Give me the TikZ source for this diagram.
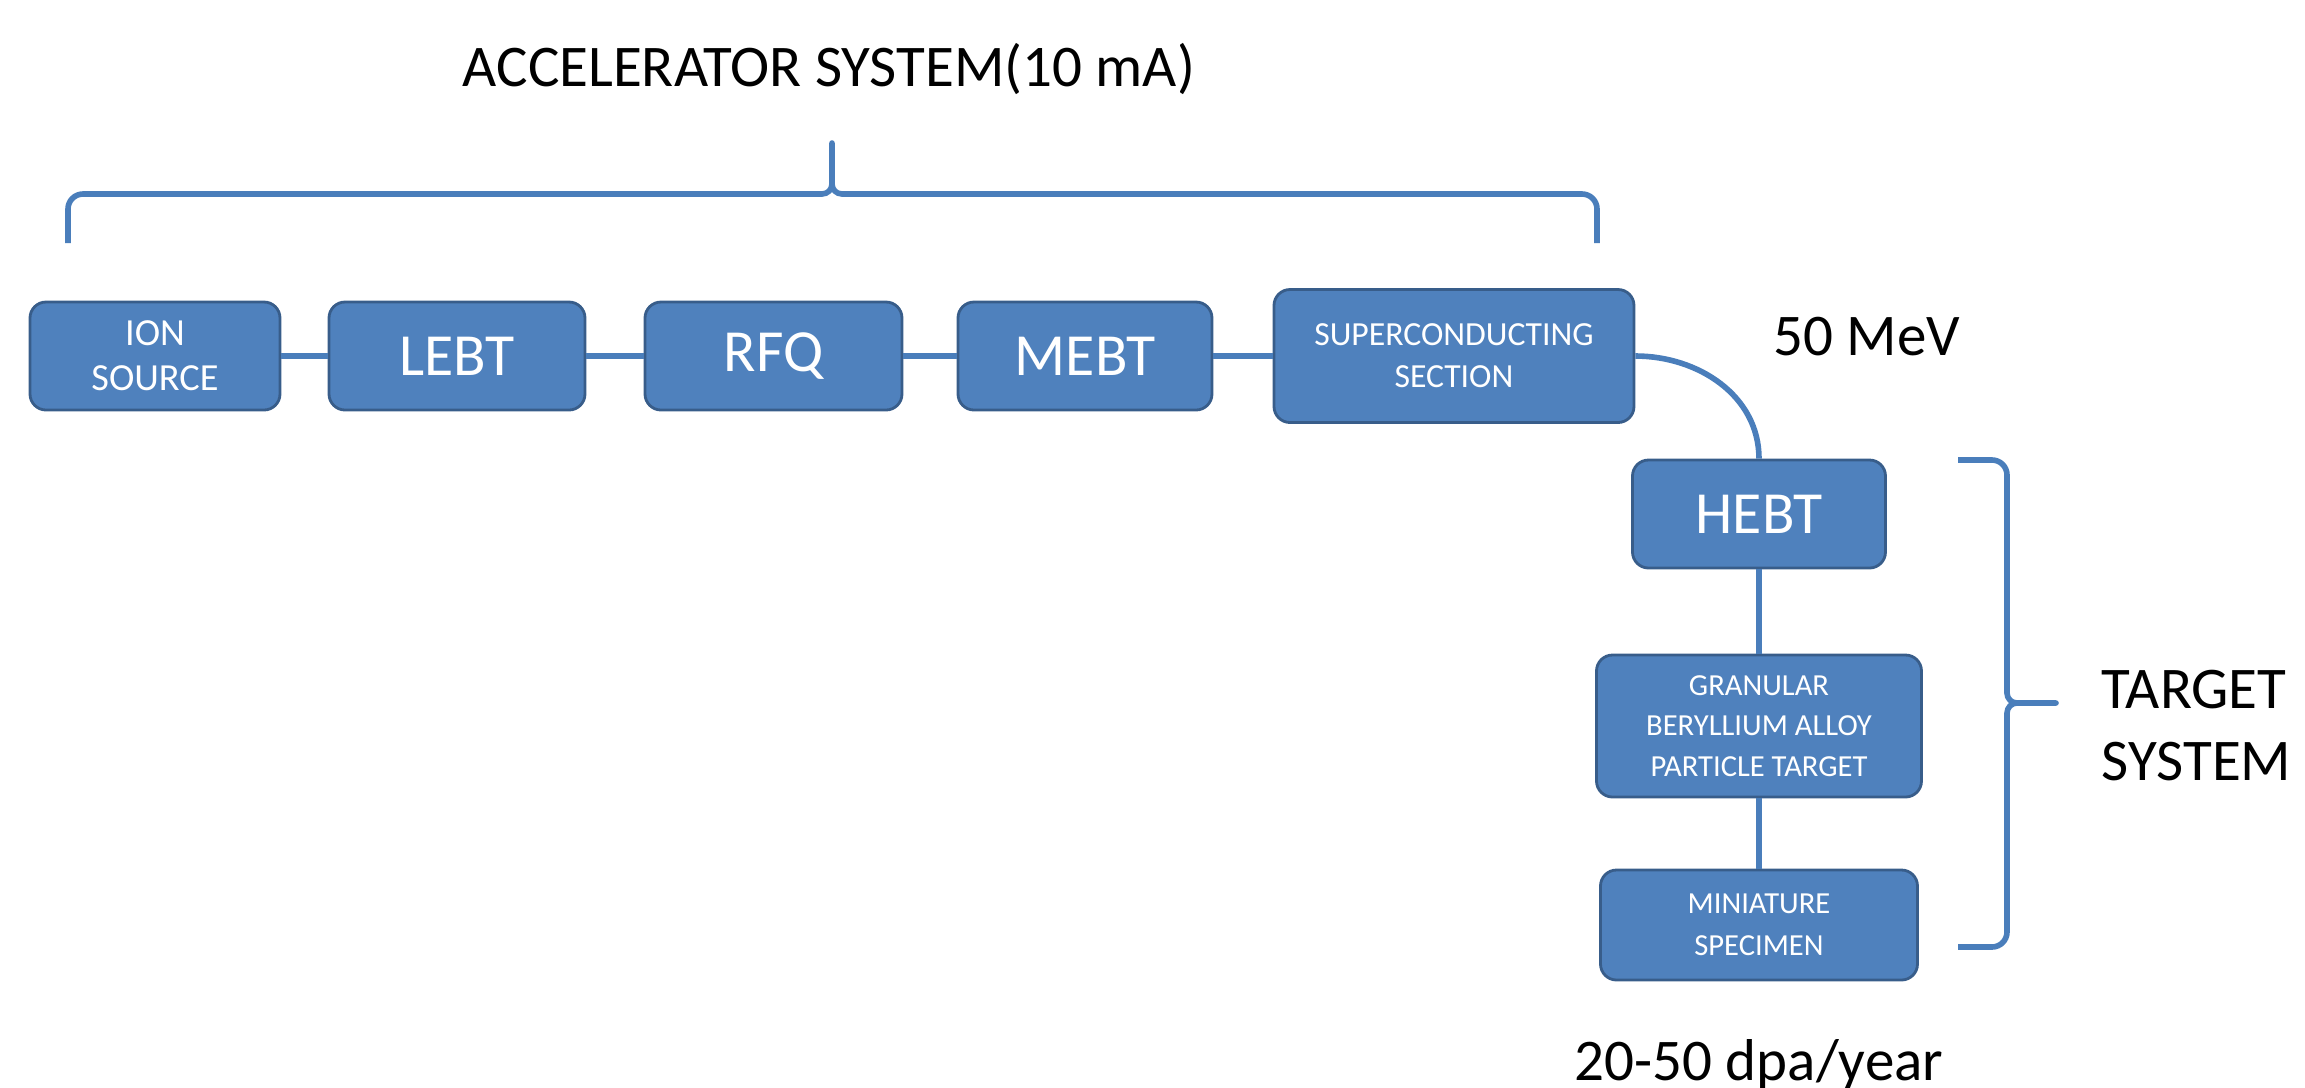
\documentclass[tikz,border=0pt]{standalone}
\usepackage{fontspec}
\setmainfont{Carlito}
\definecolor{boxblue}{HTML}{4F81BD}
\definecolor{boxedge}{HTML}{385D8A}
\definecolor{linkblue}{HTML}{4A7EBB}
\tikzset{
  unit/.style={draw=boxedge, fill=boxblue, line width=0.8pt, rounded corners=0.16cm,
    text=white, align=center, inner sep=0pt, minimum height=1.08cm},
  link/.style={draw=linkblue, line width=1.6pt},
  curly/.style={draw=linkblue, line width=1.6pt, line join=round},
  bigtext/.style={font=\fontsize{16.8}{20.5}\selectfont, inner sep=0pt},
}
\begin{document}
\begin{tikzpicture}
    \useasboundingbox (0,0) rectangle (23.05,-10.87);
    % accelerator line
    \node[unit, minimum width=2.50cm, font=\fontsize{10.9}{12.8}\selectfont] (ion) at (1.55,-3.56) {ION\\SOURCE};
    \node[unit, minimum width=2.56cm, font=\fontsize{17}{20}\selectfont] (lebt) at (4.57,-3.56) {LEBT};
    \node[unit, minimum width=2.57cm, font=\fontsize{17}{20}\selectfont] (rfq) at (7.735,-3.56) {RFQ};
    \node[unit, minimum width=2.54cm, font=\fontsize{17}{20}\selectfont] (mebt) at (10.85,-3.56) {MEBT};
    \node[unit, minimum width=3.60cm, minimum height=1.33cm, font=\fontsize{9.6}{12}\selectfont] (sc) at (14.54,-3.56) {SUPERCONDUCTING\\SECTION};

    % target line
    \node[unit, minimum width=2.53cm, font=\fontsize{17}{20}\selectfont] (hebt) at (17.59,-5.14) {HEBT};
    \node[unit, minimum width=3.25cm, minimum height=1.42cm, font=\fontsize{8.7}{11.5}\selectfont] (gran) at (17.59,-7.26) {GRANULAR\\BERYLLIUM ALLOY\\PARTICLE TARGET};
    \node[unit, minimum width=3.17cm, minimum height=1.10cm, font=\fontsize{8.7}{11.8}\selectfont] (mini) at (17.59,-9.25) {MINIATURE\\SPECIMEN};

    \draw[link] (ion) -- (lebt);
    \draw[link] (lebt) -- (rfq);
    \draw[link] (rfq) -- (mebt);
    \draw[link] (mebt) -- (sc);
    \draw[link] (sc.east) to[out=0,in=90] (hebt.north);
    \draw[link] (hebt) -- (gran);
    \draw[link] (gran) -- (mini);

    % braces and texts
    \coordinate (accl) at (0.68,-2.43);
    \coordinate (accr) at (15.97,-2.43);
    \draw[curly] (accl) -- ++(0,0.34) arc[start angle=180,end angle=90,radius=0.15]
        -- ++(7.39,0) arc[start angle=270,end angle=360,radius=0.1] -- ++(0,0.41)
        -- ++(0,-0.41) arc[start angle=180,end angle=270,radius=0.1]
        -- ++(7.40,0) arc[start angle=90,end angle=0,radius=0.15] -- (accr);
    \node[bigtext, anchor=base] (acc) at (8.29,-0.86) {ACCELERATOR SYSTEM(10 mA)};

    \coordinate (tgtt) at (19.58,-4.60);
    \coordinate (tgtb) at (19.58,-9.47);
    \draw[curly] (tgtt) -- ++(0.34,0) arc[start angle=90,end angle=0,radius=0.15]
        -- ++(0,-2.18) arc[start angle=180,end angle=270,radius=0.1] -- ++(0.39,0)
        -- ++(-0.39,0) arc[start angle=90,end angle=180,radius=0.1]
        -- ++(0,-2.19) arc[start angle=0,end angle=-90,radius=0.15] -- (tgtb);
    \node[bigtext, anchor=west, align=left] (tgt) at (21.01,-7.26) {TARGET\\SYSTEM};

    \node[bigtext, anchor=base] (mev) at (18.67,-3.55) {50 MeV};
    \node[bigtext, anchor=base] (dpa) at (17.59,-10.80) {20-50 dpa/year};
\end{tikzpicture}
\end{document}
